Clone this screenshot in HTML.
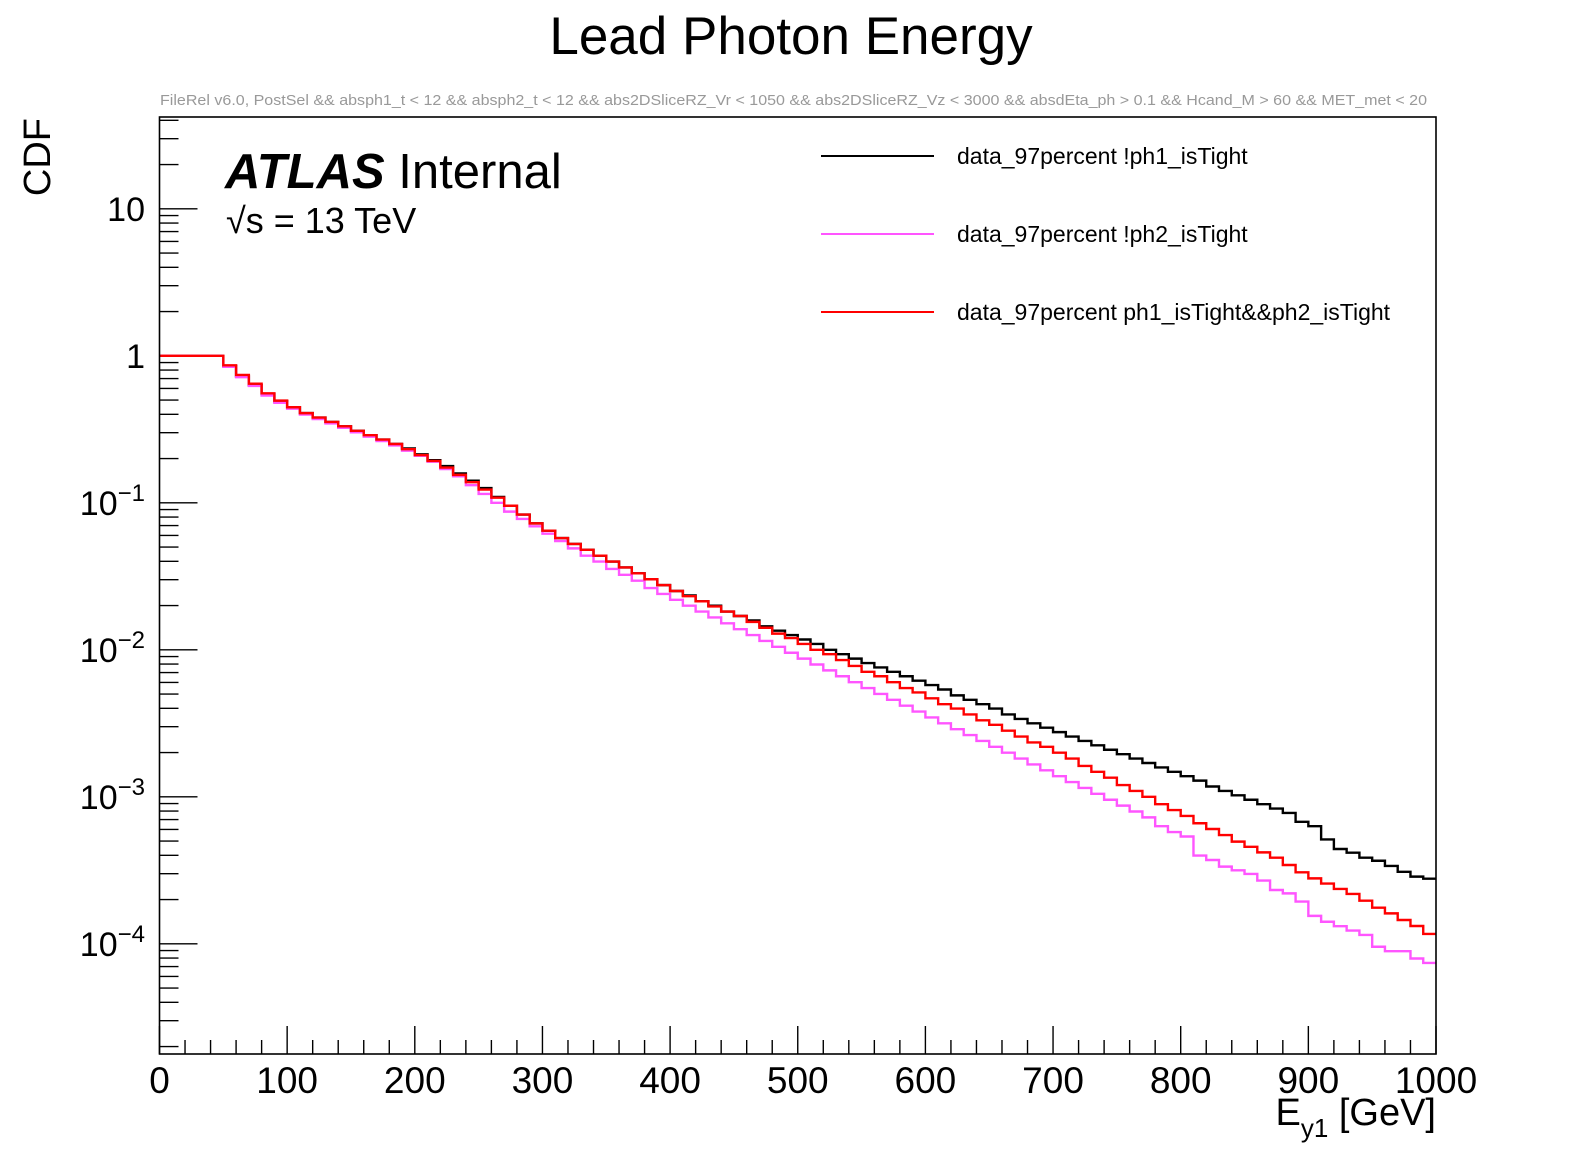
<!DOCTYPE html>
<html><head><meta charset="utf-8"><style>
html,body{margin:0;padding:0;background:#fff;}
svg{display:block;font-family:"Liberation Sans",Arial,sans-serif;}
</style></head><body>
<svg id="chart" width="1596" height="1172" viewBox="0 0 1596 1172" xmlns="http://www.w3.org/2000/svg">
<rect x="0" y="0" width="1596" height="1172" fill="#fff"/>
<text x="791" y="54" font-size="53" text-anchor="middle">Lead Photon Energy</text>
<text x="160" y="105" font-size="14.5" fill="#999" textLength="1267" lengthAdjust="spacingAndGlyphs">FileRel v6.0, PostSel &amp;&amp;  absph1_t &lt; 12 &amp;&amp; absph2_t &lt; 12 &amp;&amp; abs2DSliceRZ_Vr &lt; 1050 &amp;&amp; abs2DSliceRZ_Vz &lt; 3000 &amp;&amp; absdEta_ph &gt; 0.1 &amp;&amp; Hcand_M &gt; 60 &amp;&amp; MET_met &lt; 20</text>
<g id="axes"></g>
<g id="series"></g>
<rect x="159.5" y="117" width="1276.5" height="937" fill="none" stroke="#000" stroke-width="1.6"/>
<text x="50" y="118" font-size="38" text-anchor="end" transform="rotate(-90 50 118)">CDF</text>
<text x="1436" y="1125" font-size="38" text-anchor="end">E<tspan font-size="26" dy="12">y1</tspan><tspan dy="-12"> [GeV]</tspan></text>
<g>
<text x="225" y="188" font-size="49"><tspan font-weight="bold" font-style="italic">ATLAS</tspan> Internal</text>
<text x="226" y="233" font-size="36">√s = 13 TeV</text>
</g>
<g id="legend"></g>
<script>
const binEdgesStart = 0, binWidth = 10;
const seriesNames = ["data_97percent !ph1_isTight","data_97percent !ph2_isTight","data_97percent ph1_isTight&&ph2_isTight"];
const seriesColors = ["#000000","#ff55ff","#ff0000"];
// log10(CDF) per 10 GeV bin
const blackLog = [0,0,0,0,0,-0.07,-0.14,-0.2,-0.26,-0.31,-0.35,-0.39,-0.42,-0.45,-0.48,-0.51,-0.54,-0.57,-0.6,-0.63,-0.67,-0.71,-0.75,-0.8,-0.85,-0.9,-0.96,-1.02,-1.08,-1.14,-1.19,-1.24,-1.28,-1.32,-1.36,-1.4,-1.44,-1.48,-1.52,-1.56,-1.6,-1.63,-1.67,-1.7,-1.74,-1.77,-1.8,-1.84,-1.87,-1.9,-1.93,-1.96,-2,-2.03,-2.06,-2.09,-2.12,-2.15,-2.18,-2.21,-2.24,-2.27,-2.31,-2.34,-2.37,-2.4,-2.44,-2.47,-2.5,-2.53,-2.56,-2.59,-2.62,-2.65,-2.68,-2.71,-2.74,-2.77,-2.8,-2.83,-2.86,-2.89,-2.93,-2.96,-2.99,-3.02,-3.05,-3.08,-3.11,-3.17,-3.2,-3.29,-3.355,-3.38,-3.414,-3.435,-3.47,-3.51,-3.543,-3.557];
const magentaLog = [0,0,0,0,0,-0.075,-0.145,-0.205,-0.27,-0.32,-0.36,-0.4,-0.43,-0.46,-0.49,-0.52,-0.55,-0.58,-0.61,-0.645,-0.68,-0.72,-0.77,-0.82,-0.88,-0.94,-1,-1.06,-1.11,-1.16,-1.21,-1.26,-1.31,-1.36,-1.4,-1.45,-1.49,-1.53,-1.58,-1.62,-1.66,-1.7,-1.74,-1.78,-1.82,-1.86,-1.9,-1.94,-1.98,-2.02,-2.06,-2.1,-2.14,-2.18,-2.22,-2.26,-2.3,-2.34,-2.38,-2.42,-2.46,-2.5,-2.54,-2.58,-2.62,-2.66,-2.7,-2.74,-2.78,-2.82,-2.86,-2.9,-2.94,-2.98,-3.02,-3.06,-3.1,-3.14,-3.2,-3.24,-3.27,-3.4,-3.43,-3.475,-3.5,-3.525,-3.57,-3.634,-3.657,-3.713,-3.81,-3.85,-3.88,-3.91,-3.94,-4.02,-4.05,-4.05,-4.1,-4.13];
const redLog = [0,0,0,0,0,-0.065,-0.13,-0.19,-0.255,-0.305,-0.35,-0.39,-0.42,-0.45,-0.48,-0.51,-0.54,-0.57,-0.6,-0.635,-0.675,-0.715,-0.76,-0.81,-0.86,-0.91,-0.965,-1.02,-1.08,-1.14,-1.19,-1.24,-1.28,-1.32,-1.36,-1.4,-1.44,-1.48,-1.52,-1.56,-1.6,-1.635,-1.67,-1.705,-1.74,-1.77,-1.81,-1.85,-1.89,-1.92,-1.96,-2,-2.03,-2.07,-2.11,-2.15,-2.18,-2.22,-2.26,-2.29,-2.33,-2.37,-2.4,-2.44,-2.48,-2.51,-2.55,-2.59,-2.63,-2.66,-2.7,-2.74,-2.79,-2.83,-2.87,-2.92,-2.96,-3,-3.05,-3.09,-3.13,-3.18,-3.219,-3.26,-3.305,-3.34,-3.378,-3.414,-3.464,-3.514,-3.555,-3.59,-3.627,-3.661,-3.707,-3.754,-3.793,-3.838,-3.879,-3.933];
const xTickLabels = ["0","100","200","300","400","500","600","700","800","900","1000"];
const yDecades = [1,0,-1,-2,-3,-4];

const NS = "http://www.w3.org/2000/svg";
const X0 = 159.5, X1 = 1436, XMIN = 0, XMAX = 1000;
const YTOP = 117, YBOT = 1054, Y_AT_1 = 355.8, DEC = 147;
function xs(v){ return X0 + (v - XMIN) / (XMAX - XMIN) * (X1 - X0); }
function ys(lg){ return Y_AT_1 - DEC * lg; }
function mk(tag, attrs, parent){ const e = document.createElementNS(NS, tag); for (const k in attrs) e.setAttribute(k, attrs[k]); parent.appendChild(e); return e; }

const axes = document.getElementById('axes');
for (let v = 0; v <= 1000; v += 20) {
  const major = v % 100 === 0;
  const t = mk('line', {x1: xs(v), x2: xs(v), y1: YBOT, y2: YBOT - (major ? 28 : 14), stroke: '#000', 'stroke-width': 1.4}, axes);
  
  
}
xTickLabels.forEach(function(lab){
  const t = mk('text', {x: xs(+lab), y: 1093, 'font-size': 37, 'text-anchor': 'middle'}, axes);
  t.textContent = lab;
  
  
});
for (let d = -5; d <= 1; d++) {
  for (let m = 1; m <= 9; m++) {
    const lg = d + Math.log10(m);
    const y = ys(lg);
    if (y < YTOP || y > YBOT) continue;
    const t = mk('line', {x1: X0, x2: X0 + (m === 1 ? 38 : 19), y1: y, y2: y, stroke: '#000', 'stroke-width': 1.4}, axes);
    
    
  }
}
yDecades.forEach(function(d){
  const y = ys(d);
  const t = mk('text', {x: 145, y: y + 12, 'font-size': 34, 'text-anchor': 'end'}, axes);
  if (d === 1) t.textContent = '10';
  else if (d === 0) t.textContent = '1';
  else {
    t.textContent = '10';
    const s = mk('tspan', {'font-size': 24, dy: -14}, t);
    s.textContent = '\u2212' + (-d);
  }
  
  
});

const sg = document.getElementById('series');
function drawSeries(arr, color, name){
  let d = '';
  arr.forEach(function(lg, i){
    const xa = xs(binEdgesStart + i * binWidth), xb = xs(binEdgesStart + (i + 1) * binWidth), y = ys(lg);
    d += (i === 0 ? 'M' : 'L') + xa.toFixed(2) + ',' + y.toFixed(2) + 'L' + xb.toFixed(2) + ',' + y.toFixed(2);
  });
  const p = mk('path', {d: d, fill: 'none', stroke: color, 'stroke-width': 2.4}, sg);
  
  
}
drawSeries(blackLog, seriesColors[0], 'series-not-ph1-tight');
drawSeries(magentaLog, seriesColors[1], 'series-not-ph2-tight');
drawSeries(redLog, seriesColors[2], 'series-both-tight');

const lg = document.getElementById('legend');
const legY = [156, 234, 312];
seriesNames.forEach(function(n, i){
  const l = mk('line', {x1: 821, x2: 934, y1: legY[i], y2: legY[i], stroke: seriesColors[i], 'stroke-width': 2}, lg);
  
  
  const t = mk('text', {x: 957, y: legY[i] + 8, 'font-size': 23}, lg);
  t.textContent = n;
  
  
});
</script>
</svg>
</body></html>
